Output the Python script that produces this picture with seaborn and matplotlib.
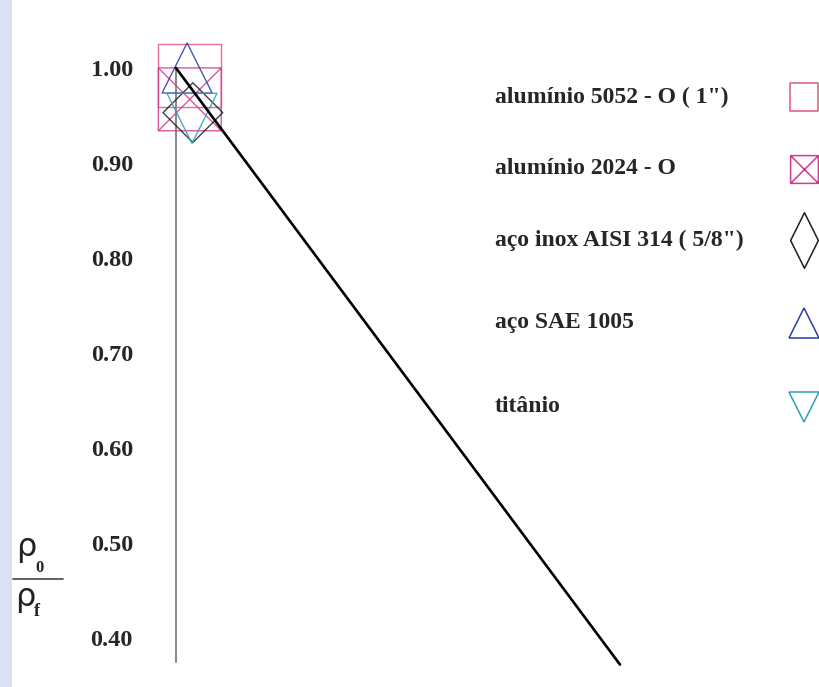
import numpy as np
import pandas as pd
import matplotlib
matplotlib.use("Agg")
import matplotlib.pyplot as plt
from matplotlib.path import Path
from matplotlib.lines import Line2D
from matplotlib.patches import Rectangle
import seaborn as sns

# ---- data ---------------------------------------------------------------
materiais = [
    "alumínio 5052 - O ( 1\")",
    "alumínio 2024 - O",
    "aço inox AISI 314 ( 5/8\")",
    "aço SAE 1005",
    "titânio",
]
x_pontos = [0.031, 0.031, 0.038, 0.025, 0.036]
rho_pontos = [0.992, 0.967, 0.953, 1.000, 0.947]
cores = ["#e2587c", "#d23c8e", "#1e1e1e", "#2b3aa8", "#2f9fb4"]

x_reta = [0.0, 1.0]
rho_reta = [1.00, 0.372]

y_major = [0.40, 0.50, 0.60, 0.70, 0.80, 0.90, 1.00]
y_minor = [0.45, 0.55, 0.65, 0.75, 0.85, 0.95]
y_labels = ["0.40", "0.50", "0.60", "0.70", "0.80", "0.90", "1.00"]

# ---- marker shapes --------------------------------------------------------
quad = Path([(-1, -1), (1, -1), (1, 1), (-1, 1), (-1, -1)],
            [Path.MOVETO, Path.LINETO, Path.LINETO, Path.LINETO, Path.CLOSEPOLY])
quad_x = Path([(-1, -1), (1, -1), (1, 1), (-1, 1), (-1, -1),
               (-1, -1), (1, 1), (-1, 1), (1, -1)],
              [Path.MOVETO, Path.LINETO, Path.LINETO, Path.LINETO, Path.CLOSEPOLY,
               Path.MOVETO, Path.LINETO, Path.MOVETO, Path.LINETO])
losango = Path([(0, 1), (1, 0), (0, -1), (-1, 0), (0, 1)],
               [Path.MOVETO, Path.LINETO, Path.LINETO, Path.LINETO, Path.CLOSEPOLY])
losango_fino = Path([(0, 1), (0.5, 0), (0, -1), (-0.5, 0), (0, 1)],
                    [Path.MOVETO, Path.LINETO, Path.LINETO, Path.LINETO, Path.CLOSEPOLY])

marcas_graf = [quad, quad_x, losango, "^", "v"]
tam_graf = [2050, 2050, 1850, 1300, 1300]
marcas_leg = [quad, quad_x, losango_fino, "^", "v"]
tam_leg = [20, 20, 40, 21, 21]

# ---- style ----------------------------------------------------------------
sns.set_style("white")
plt.rcParams["font.family"] = ["Liberation Serif", "DejaVu Serif"]
plt.rcParams["font.weight"] = "bold"

W, H = 820, 687
fig = plt.figure(figsize=(W / 100, H / 100), dpi=100)
fig.patch.set_facecolor("white")
fig.patches.append(Rectangle((0, 0), 12 / W, 1, transform=fig.transFigure,
                             facecolor="#d9e2f4", edgecolor="none", zorder=0))

ax = fig.add_axes([0, 0, 1, 1])
ax.set_facecolor("none")

df_pts = pd.DataFrame({"material": materiais, "x": x_pontos, "rho": rho_pontos})

for i, row in df_pts.iterrows():
    sns.scatterplot(x=[row["x"]], y=[row["rho"]], marker=marcas_graf[i],
                    s=tam_graf[i], color=cores[i], edgecolor=cores[i],
                    facecolor="none", linewidth=1.0, alpha=0.85,
                    legend=False, ax=ax, zorder=3)

sns.lineplot(x=x_reta, y=rho_reta, color="black", linewidth=1.9, ax=ax, zorder=4)

# ---- axes -----------------------------------------------------------------
px_x0, px_x1 = 176, 620
escala = px_x1 - px_x0
ax.set_xlim(-px_x0 / escala, (W - px_x0) / escala)
ax.set_ylim(0.40 - (H - 638) / 950, 1.00 + 68 / 950)

for s in ["top", "right", "bottom"]:
    ax.spines[s].set_visible(False)
ax.spines["left"].set_position(("data", 0.0))
ax.spines["left"].set_bounds(0.375, 1.00)
ax.spines["left"].set_color("#666666")
ax.spines["left"].set_linewidth(1.1)

ax.set_xticks([])
ax.set_yticks(y_major)
ax.set_yticklabels(y_labels)
ax.set_yticks(y_minor, minor=True)
ax.tick_params(axis="y", which="major", direction="out", length=22, width=1.1,
               color="#666666", pad=9, labelsize=17.5)
ax.tick_params(axis="y", which="minor", direction="out", length=11, width=1.1,
               color="#666666")
for t in ax.get_yticklabels():
    t.set_fontweight("bold")
ax.set_xlabel("")
ax.set_ylabel("")

# ---- y label: rho_0 / rho_f -------------------------------------------------
def fx(px):
    return px / W

def fy(py):
    return 1 - py / H

fig.text(fx(26), fy(556), "ρ", fontsize=23, family="DejaVu Sans",
         fontweight="normal", ha="center", va="baseline", color="#222222")
fig.text(fx(40), fy(572), "0", fontsize=12, fontweight="bold",
         ha="center", va="baseline")
fig.lines.append(Line2D([fx(13), fx(63)], [fy(579), fy(579)],
                        transform=fig.transFigure, color="#444444", linewidth=1.2))
fig.text(fx(25), fy(606), "ρ", fontsize=23, family="DejaVu Sans",
         fontweight="normal", ha="center", va="baseline", color="#222222")
fig.text(fx(37), fy(616), "f", fontsize=13, fontweight="bold",
         ha="center", va="baseline")

# ---- legend ---------------------------------------------------------------
linhas_leg = [97, 169, 240, 323, 407]
for i, nome in enumerate(materiais):
    fig.text(fx(495), fy(linhas_leg[i]), nome, fontsize=17, fontweight="bold",
             ha="left", va="center")
    fig.lines.append(Line2D([fx(804)], [fy(linhas_leg[i])], transform=fig.transFigure,
                            marker=marcas_leg[i], markersize=tam_leg[i],
                            markerfacecolor="none", markeredgecolor=cores[i],
                            markeredgewidth=1.1, linestyle="none"))

fig.savefig("out.png", dpi=100)
